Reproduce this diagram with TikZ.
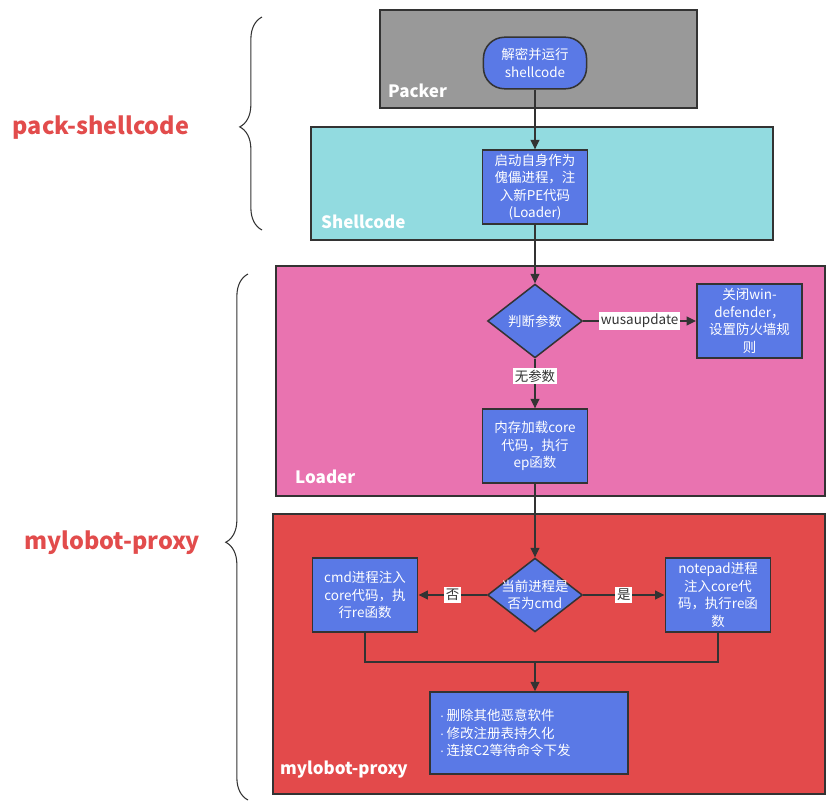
\documentclass[tikz,border=0pt]{standalone}
\usepackage{fontspec}
\setmainfont{Noto Sans CJK SC}
\newfontfamily\dotfont{Liberation Sans}
\usetikzlibrary{shapes.geometric,arrows.meta,decorations.pathreplacing}
\definecolor{packergray}{HTML}{999999}
\definecolor{shellcyan}{HTML}{92DBE0}
\definecolor{loaderpink}{HTML}{E973B0}
\definecolor{proxyred}{HTML}{E34A4B}
\definecolor{nodeblue}{HTML}{5A79E6}
\definecolor{linegray}{HTML}{333333}
\definecolor{labelred}{HTML}{E24C4C}
\newcommand{\itemdot}{{\dotfont ·}\,}

\begin{document}
\begin{tikzpicture}[x=0.03cm,y=-0.03cm,
  lane/.style={draw=linegray,line width=1.3pt},
  lanename/.style={anchor=base west,text=white,inner sep=0pt,font=\fontsize{14.5}{17}\selectfont\bfseries},
  proc/.style={draw=linegray,line width=1.3pt,fill=nodeblue,text=white,align=center,minimum width=90pt,minimum height=63pt,inner sep=2pt,font=\fontsize{11.5}{15}\selectfont},
  decide/.style={diamond,draw=linegray,line width=1.3pt,fill=nodeblue,text=white,align=center,minimum width=81pt,minimum height=63pt,inner sep=-12pt,font=\fontsize{11.5}{15}\selectfont},
  flow/.style={draw=linegray,line width=1.1pt,-{Triangle[length=8pt,width=7.5pt]}},
  edgetext/.style={fill=white,text=linegray,inner sep=1.5pt,font=\fontsize{11.5}{14}\selectfont},
  grouptext/.style={text=labelred,font=\fontsize{20}{24}\selectfont\bfseries},
  grouping/.style={draw=linegray,line width=0.9pt,decorate,decoration={brace,amplitude=19pt}}
]
  \useasboundingbox (0,0) rectangle (826,803);

  % stages
  \draw[lane,fill=packergray] (380,10) rectangle (697,108);
  \draw[lane,fill=shellcyan] (311,127) rectangle (773,240);
  \draw[lane,fill=loaderpink] (276,266) rectangle (825,496);
  \draw[lane,fill=proxyred] (273,514) rectangle (825,794);
  \node[lanename] (packername) at (388,97) {Packer};
  \node[lanename] (shellname) at (321,228) {Shellcode};
  \node[lanename] (loadername) at (295,483) {Loader};
  \node[lanename] (proxyname) at (280,774) {mylobot-proxy};

  % steps
  \node[proc,rounded corners=18pt,minimum width=88pt,minimum height=44pt] (unpack) at (535,63) {解密并运行\\shellcode};
  \node[proc] (inject) at (535,187) {启动自身作为\\傀儡进程，注\\入新PE代码\\(Loader)};
  \node[decide] (param) at (535,321) {判断参数};
  \node[proc] (defender) at (749.5,321) {关闭win-\\defender，\\设置防火墙规\\则};
  \node[proc] (loadcore) at (535,446) {内存加载core\\代码，执行\\ep函数};
  \node[decide] (cmdq) at (535,595) {当前进程是\\否为cmd};
  \node[proc] (cmdinj) at (365,595) {cmd进程注入\\core代码，执\\行re函数};
  \node[proc] (noteinj) at (718,595) {notepad进程\\注入core代\\码，执行re函\\数};
  \node[proc,align=left,text width=152pt,inner xsep=8.5pt,minimum height=70pt] (payload) at (529,733) {\itemdot 删除其他恶意软件\\\itemdot 修改注册表持久化\\\itemdot 连接C2等待命令下发};
  \coordinate (merge) at (535,662);

  \draw[flow] (unpack) -- (inject);
  \draw[flow] (inject) -- (param);
  \draw[flow] (param) -- node[edgetext] {wusaupdate} (defender);
  \draw[flow] (param) -- node[edgetext,pos=0.35] {无参数} (loadcore);
  \draw[flow] (loadcore) -- (cmdq);
  \draw[flow] (cmdq) -- node[edgetext] {否} (cmdinj);
  \draw[flow] (cmdq) -- node[edgetext] {是} (noteinj);
  \draw[draw=linegray,line width=1.1pt] (cmdinj) |- (merge) -| (noteinj);
  \draw[flow] (merge) -- (merge |- payload.north);

  % groups
  \draw[grouping,decoration={aspect=0.484}] (262,230) -- (262,17);
  \draw[grouping,decoration={aspect=0.49}] (248,800) -- (248,274);
  \node[grouptext] (packgroup) at (101,128) {pack-shellcode};
  \node[grouptext] (proxygroup) at (112,543) {mylobot-proxy};
\end{tikzpicture}
\end{document}
